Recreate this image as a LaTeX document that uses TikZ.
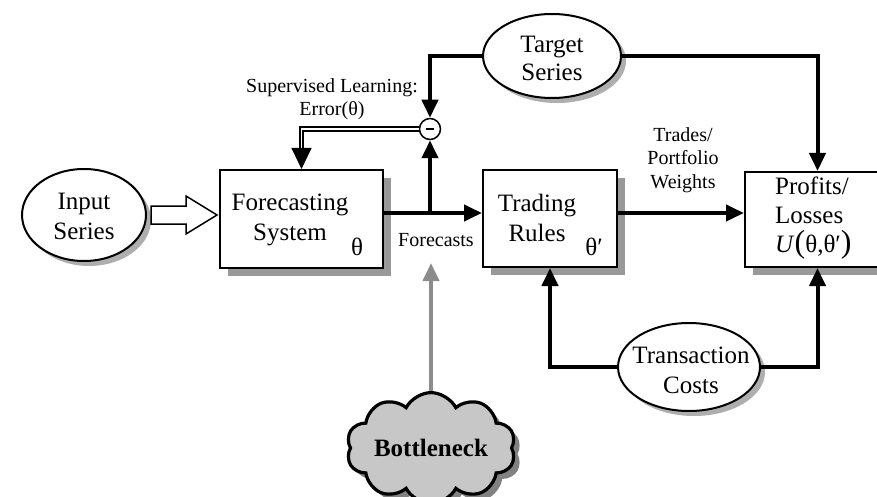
\documentclass[tikz,border=0pt]{standalone}
\usepackage{fontspec}
\setmainfont{Liberation Serif}
\usetikzlibrary{arrows.meta,shapes.geometric,shapes.symbols,shadows,calc}

\begin{document}
\begin{tikzpicture}[x=1pt,y=-1pt,
  box/.style={draw, line width=2pt, fill=white, rectangle, inner sep=0pt,
    drop shadow={shadow xshift=8pt, shadow yshift=-8pt, fill=black!40, opacity=1}},
  oval/.style={draw, line width=2pt, fill=white, ellipse, inner sep=0pt,
    drop shadow={shadow xshift=5pt, shadow yshift=-5pt, fill=black!45, opacity=0.7}},
  big/.style={font=\fontsize{25}{30}\selectfont, align=center, inner sep=0pt},
  small/.style={font=\fontsize{20}{23.5}\selectfont, align=center, inner sep=0pt},
  flow/.style={line width=4pt, -{Triangle[length=18pt,width=16pt]}},
  gflow/.style={line width=4pt, draw=black!45, -{Triangle[length=18pt,width=16pt,fill=black!45]}},
]
\useasboundingbox (0,0) rectangle (877,497);
\clip (0,0) rectangle (877,497);

% blocks
\node[box, minimum width=163pt, minimum height=98pt] (fs) at (301.5,219) {};
\node[big] (fst) at (290,220) {\baselineskip=33pt Forecasting\\System};
\node[big] (fsth) at (357,247) {θ};

\node[box, minimum width=134pt, minimum height=97pt] (tr) at (550,218.5) {};
\node[big] (trt) at (537,218) {Trading\\Rules};
\node[big] (trth) at (594,247) {θ′};

\node[box, minimum width=145pt, minimum height=95pt] (pl) at (817.5,219.5) {};
\node[big, align=left, anchor=west, font=\fontsize{25}{29}\selectfont] (plt) at (775,218)
  {Profits/\\Losses\\\textit{U}{\fontsize{32}{29}\selectfont(}θ,θ′{\fontsize{32}{29}\selectfont)}};

% ovals
\node[oval, minimum width=124pt, minimum height=92pt] (in) at (84,215) {};
\node[big] (int) at (84,216) {Input\\Series};
\node[oval, minimum width=138pt, minimum height=84pt] (ts) at (552,56) {};
\node[big, font=\fontsize{25}{28}\selectfont] (tst) at (552,58) {Target\\Series};
\node[oval, minimum width=142pt, minimum height=88pt] (tc) at (689,367) {};
\node[big] (tct) at (691,370) {Transaction\\Costs};

% bottleneck cloud
\node[cloud, cloud puffs=10, cloud puff arc=125, aspect=1.9, draw, line width=3.2pt,
  fill=black!22, minimum width=166pt, minimum height=88pt, inner sep=0pt,
  drop shadow={shadow xshift=6pt, shadow yshift=-6pt, fill=black!55, opacity=0.9},
  font=\bfseries\fontsize{25}{28}\selectfont] (bn) at (431,448) {Bottleneck};

% comparator
\node[circle, draw, line width=1.5pt, fill=white, minimum size=21pt, inner sep=0pt] (mn) at (430,129) {};
\draw[line width=2.2pt] ([xshift=-4pt]mn.center) -- ([xshift=4pt]mn.center);

% labels
\node[small] (sl) at (332,99) {Supervised Learning:\\Error(θ)};
\node[small] (fc) at (436,240) {Forecasts};
\node[small] (tw) at (683,160) {Trades/\\Portfolio\\Weights};

% hollow input arrow
\draw[line width=1.5pt, fill=white] let \p1=(in.east), \p2=(fs.west) in
  (\x1+4pt,\y1+9pt) -- (\x1+39pt,\y1+9pt) -- (\x1+39pt,\y1+19pt) -- (\x2-2pt,\y1)
  -- (\x1+39pt,\y1-19pt) -- (\x1+39pt,\y1-9pt) -- (\x1+4pt,\y1-9pt) -- cycle;

% signal flow
\coordinate (fo) at ([yshift=6pt]fs.east);
\coordinate (jn) at (fo -| mn);
\draw[flow] (fo) -- (fo -| tr.west);
\draw[flow] (jn) -- (mn.south);
\coordinate (to) at ([yshift=5.5pt]tr.east);
\draw[flow] (to) -- (to -| pl.west);
\draw[flow] (ts.west) -| (mn.north);
\draw[flow] (ts.east) -| (pl.north);
\draw[flow] (tc.west) -| (tr.south);
\draw[flow] (tc.east) -| (pl.south);

% error feedback (double line)
\coordinate (dh) at ([yshift=20pt]fs.north);
\draw[line width=1.8pt, double=white, double distance=1.6pt] (mn.west) -| (dh);
\draw[line width=1pt, -{Triangle[length=21pt,width=20pt]}] (dh) -- (fs.north);

% bottleneck arrow
\coordinate (gt) at ([yshift=6pt]fs.south);
\draw[gflow] (bn.north) -- (bn.north |- gt);
\end{tikzpicture}
\end{document}
